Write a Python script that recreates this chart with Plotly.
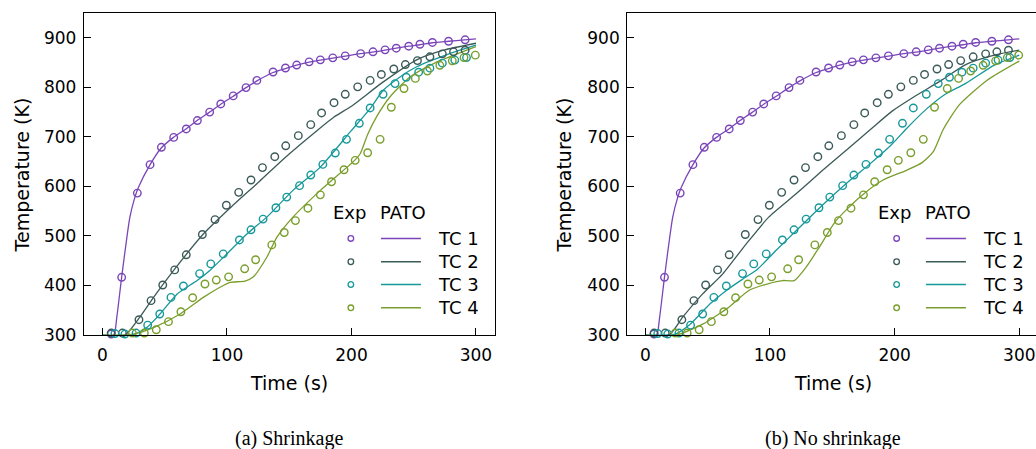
import plotly.graph_objects as go

# ---------------- data ----------------
series_names = ["TC 1", "TC 2", "TC 3", "TC 4"]
colors = ["#7a45b8", "#3b5a58", "#17989a", "#7a9e2c"]

# Experimental (same in both panels)
exp_tc1_t = [7, 15.4, 28, 38.2, 47.3, 57.2, 67.3, 76.2, 86.1, 95, 105, 115.3, 124, 137, 147, 156, 166, 175, 185, 195, 207.4, 217.3, 227, 236, 246, 255, 265, 278, 291.3]
exp_tc1_T = [302, 416.6, 586.5, 644, 679, 699, 716, 733, 750, 766.5, 782.7, 799.5, 814, 831, 839, 845, 851.5, 855.5, 859.5, 863.6, 868, 871.7, 875.7, 879, 883, 887, 890.6, 893, 896]

exp_tc2_t = [7, 16, 29.3, 39, 48.4, 58, 67.3, 80.2, 90.4, 99.5, 109.4, 119.3, 128.5, 138.4, 147.2, 157.3, 167.3, 176, 186, 195, 205, 215, 224, 234, 243.3, 253, 263, 273, 282, 291.3]
exp_tc2_T = [304, 304, 331, 369.4, 401, 431.5, 462, 503, 533, 562, 588, 613, 638, 660, 682, 702.5, 724.7, 748.3, 769, 786, 801, 814, 826, 837, 846, 854, 861.6, 867.6, 871.7, 875]

exp_tc3_t = [10, 18, 27, 36.3, 46, 55, 65, 78, 87, 97, 110, 119.3, 129, 139.3, 148, 158.3, 167.3, 177, 187, 196, 206.3, 215, 225.4, 235, 244, 254, 263, 273, 283, 292.4]
exp_tc3_T = [303, 302, 304, 320, 342.5, 376, 399, 424, 443.6, 463.8, 492, 512.4, 534, 557, 578.4, 601.6, 623, 644.5, 667.4, 695, 727.4, 758.4, 786, 807.6, 820.4, 830.6, 838.7, 848.8, 855, 860]

exp_tc4_t = [24, 33.6, 43.2, 53, 63, 72.4, 82.3, 91.4, 101.3, 114.2, 123, 136, 146, 155, 165, 175, 184, 194, 203, 213, 223, 232, 242.2, 251.3, 261, 271, 281, 290.4, 299.5]
exp_tc4_T = [304, 304, 310.7, 327, 347, 375.4, 403, 411, 417.5, 433.7, 452, 482, 507, 531, 556, 583, 609.4, 633.7, 652.6, 668, 695, 759.8, 797.6, 818, 833, 844.5, 853.5, 860, 865]

# PATO model, TC 1 (both panels)
pato_tc1_t = [0, 9, 11.5, 15.4, 22, 26, 29, 38, 47, 57, 67, 76, 86, 95, 105, 115, 124, 137, 147, 156, 166, 175, 185, 195, 207, 217, 227, 236, 246, 255, 265, 278, 291, 300]
pato_tc1_T = [300, 300, 336, 417, 538, 578, 599, 643, 677, 699, 716, 733, 750, 766, 782, 799, 813, 830, 838, 845, 851, 855, 859, 863, 868, 871, 875, 879, 883, 886, 890, 893, 896, 898]

# PATO (a) shrinkage
a_tc2_t = [0, 18, 30, 41, 57, 81, 104, 126, 147, 172, 186, 200, 225, 252, 274, 300]
a_tc2_T = [300, 300, 336, 376, 430, 504, 560, 610, 659, 712, 740, 762, 810, 855, 875, 889]
a_tc3_t = [0, 24, 35.5, 46, 60, 76, 86, 100, 116, 132, 153, 175, 200, 215, 225.5, 239, 252, 279, 300]
a_tc3_T = [300, 300, 315, 342, 383, 410, 430, 464, 504, 538, 592, 639, 713, 757, 794, 821, 841, 868, 885]
a_tc4_t = [0, 24.7, 41, 62, 81, 94, 102, 114.5, 121, 132, 140, 153, 175, 184, 201.5, 207, 213, 220, 231, 247, 266, 300]
a_tc4_T = [300, 302, 315, 342, 376, 396, 406, 409, 417, 457, 497, 538, 592, 612, 650, 666, 705, 740, 781, 821, 848, 882]

# PATO (b) no shrinkage
b_tc2_t = [0, 19, 30, 46, 62, 81, 99, 121, 142, 164, 182, 198, 215, 238, 257, 280, 300]
b_tc2_T = [300, 300, 336, 383, 423, 484, 538, 585, 632, 679, 718, 752, 780, 815, 846, 865, 875]
b_tc3_t = [0, 24, 36, 52, 65, 80, 90, 105, 124, 142, 164, 180, 197, 210, 225, 240, 257, 280, 300]
b_tc3_T = [300, 302, 322, 363, 390, 416, 433, 471, 518, 562, 612, 645, 683, 718, 755, 785, 808, 845, 865]
b_tc4_t = [0, 25, 46, 67, 83, 99, 110, 119.5, 129, 139.5, 153, 172, 190, 209, 222, 231, 239, 252, 274, 300]
b_tc4_T = [300, 300, 322, 356, 390, 404, 410, 410, 437, 477, 531, 578, 612, 632, 648, 670, 715, 765, 814, 853]

x_ticks = [0, 100, 200, 300]
y_ticks = [300, 400, 500, 600, 700, 800, 900]
legend_rows_T = [495, 448, 402, 355]

exp_t = [exp_tc1_t, exp_tc2_t, exp_tc3_t, exp_tc4_t]
exp_T = [exp_tc1_T, exp_tc2_T, exp_tc3_T, exp_tc4_T]
pato_a = [(pato_tc1_t, pato_tc1_T), (a_tc2_t, a_tc2_T), (a_tc3_t, a_tc3_T), (a_tc4_t, a_tc4_T)]
pato_b = [(pato_tc1_t, pato_tc1_T), (b_tc2_t, b_tc2_T), (b_tc3_t, b_tc3_T), (b_tc4_t, b_tc4_T)]

W = 1036
H_LAYOUT = 460      # layout height
H_REF = 449         # reference picture height (positions below are fractions of it)
FONT = "DejaVu Sans"

fig = go.Figure()

for ax, pato in (("", pato_a), ("2", pato_b)):
    for i in range(4):
        fig.add_trace(go.Scatter(
            x=pato[i][0], y=pato[i][1], mode="lines",
            line=dict(color=colors[i], width=1.3, shape="spline", smoothing=0.6),
            xaxis="x" + ax, yaxis="y" + ax, showlegend=False, hoverinfo="skip"))
    for i in range(4):
        fig.add_trace(go.Scatter(
            x=exp_t[i], y=exp_T[i], mode="markers",
            marker=dict(symbol="circle-open", size=7.5, color=colors[i], line=dict(width=1.4, color=colors[i])),
            xaxis="x" + ax, yaxis="y" + ax, showlegend=False, cliponaxis=False, hoverinfo="skip"))

def py(p):
    return 1 - p / H_REF

ydom = [py(334.3), py(13)]
axis_common = dict(showgrid=False, zeroline=False, showline=True, linecolor="black", linewidth=1.3,
                   ticks="inside", ticklen=7, tickwidth=1.2, tickcolor="black",
                   tickfont=dict(family=FONT, size=17, color="black"))

layout = dict(
    width=W, height=H_LAYOUT, autosize=False, margin=dict(l=0, r=0, t=0, b=0, pad=0),
    paper_bgcolor="white", plot_bgcolor="white", showlegend=False,
    xaxis=dict(domain=[84 / W, 495 / W], range=[-14.86, 315.3], tickvals=x_ticks, mirror=True,
               anchor="y", ticklabelstandoff=4, **axis_common),
    yaxis=dict(domain=ydom, range=[300, 950], tickvals=y_ticks, mirror=True,
               anchor="x", ticklabelstandoff=3, **axis_common),
    xaxis2=dict(domain=[627.3 / W, 1.0], range=[-14.44, 313.4], tickvals=x_ticks, mirror=True,
                anchor="y2", ticklabelstandoff=4, **axis_common),
    yaxis2=dict(domain=ydom, range=[300, 950], tickvals=y_ticks, mirror=False,
                anchor="x2", ticklabelstandoff=3, **axis_common),
)
fig.update_layout(**layout)

annotations = []
shapes = []
# axis titles and captions
for cx_ylab, cx_title, caption in ((22 / W, 289 / W, "(a) Shrinkage"), (564 / W, 832.7 / W, "(b) No shrinkage")):
    annotations.append(dict(text="Temperature (K)", x=cx_ylab, y=py(175), xref="paper", yref="paper",
                            textangle=-90, showarrow=False, xanchor="center", yanchor="middle",
                            font=dict(family=FONT, size=19, color="black")))
    annotations.append(dict(text="Time (s)", x=cx_title, y=py(382), xref="paper", yref="paper",
                            showarrow=False, xanchor="center", yanchor="middle",
                            font=dict(family=FONT, size=19, color="black")))
    annotations.append(dict(text=caption, x=cx_title, y=py(438), xref="paper", yref="paper",
                            showarrow=False, xanchor="center", yanchor="middle",
                            font=dict(family="Liberation Serif", size=20, color="black")))

# custom two-column legend
for ax, (exp_x, pato_x, mk_x, l0, l1, tx) in (("", (198.8, 241.6, 199.5, 223.7, 255.8, 267.9)),
                                               ("2", (199.7, 243, 201.6, 225.1, 257.2, 269))):
    xr, yr = "x" + ax, "y" + ax
    annotations.append(dict(text="Exp", x=exp_x, y=547.5, xref=xr, yref=yr, showarrow=False,
                            xanchor="center", yanchor="middle", font=dict(family=FONT, size=18, color="black")))
    annotations.append(dict(text="PATO", x=pato_x, y=547.5, xref=xr, yref=yr, showarrow=False,
                            xanchor="center", yanchor="middle", font=dict(family=FONT, size=18, color="black")))
    for i in range(4):
        yv = legend_rows_T[i]
        shapes.append(dict(type="circle", xref=xr, yref=yr, xsizemode="pixel", ysizemode="pixel",
                           xanchor=mk_x, yanchor=yv, x0=-2.8, x1=2.8, y0=-2.8, y1=2.8,
                           line=dict(color=colors[i], width=1.3)))
        shapes.append(dict(type="line", xref=xr, yref=yr, x0=l0, x1=l1, y0=yv, y1=yv,
                           line=dict(color=colors[i], width=1.5)))
        annotations.append(dict(text=series_names[i], x=tx, y=yv, xref=xr, yref=yr, showarrow=False,
                                xanchor="left", yanchor="middle", font=dict(family=FONT, size=18, color="black")))

fig.update_layout(annotations=annotations, shapes=shapes)
fig.write_html("out.html", config={"responsive": False})
